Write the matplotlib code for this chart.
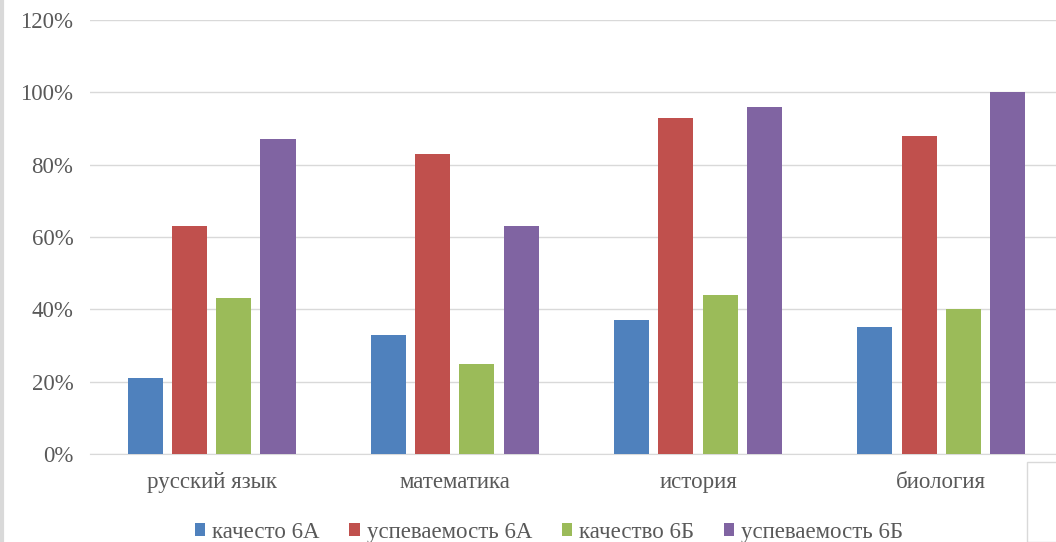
import matplotlib.pyplot as plt
import matplotlib.patches as mpatches
from matplotlib.lines import Line2D
import numpy as np

# subjects and series (percent)
subjects = ["русский язык", "математика", "история", "биология"]
series_names = ["качесто 6А", "успеваемость 6А", "качество 6Б", "успеваемость 6Б"]
kach_6a = [21, 33, 37, 35]
usp_6a = [63, 83, 93, 88]
kach_6b = [43, 25, 44, 40]
usp_6b = [87, 63, 96, 100]
colors = ["#4f81bd", "#c0504d", "#9bbb59", "#8064a2"]

plt.rcParams['font.family'] = ['Liberation Serif', 'DejaVu Serif']

fig = plt.figure(figsize=(10.56, 5.42), dpi=100)
ax = fig.add_axes([0.0852, 0.1624, 0.9214, 0.8007])

x = np.arange(len(subjects))
width = 0.144
pitch = 0.182
offsets = [-1.5, -0.5, 0.5, 1.5]
for vals, name, c, off in zip([kach_6a, usp_6a, kach_6b, usp_6b], series_names, colors, offsets):
    ax.bar(x + off * pitch, vals, width, color=c, label=name, zorder=3)

ax.set_xlim(-0.5, len(subjects) - 0.5)
ax.set_ylim(0, 120)
ax.set_yticks(range(0, 121, 20))
ax.set_yticklabels([f"{v}%" for v in range(0, 121, 20)])
ax.set_xticks(x)
ax.set_xticklabels(subjects)
ax.grid(axis='y', color='#d9d9d9', linewidth=1, zorder=0)
for s in ['top', 'right', 'left']:
    ax.spines[s].set_visible(False)
ax.spines['bottom'].set_color('#d9d9d9')
ax.tick_params(axis='both', length=0, labelsize=16.5, colors='#595959')
ax.tick_params(axis='y', pad=12)
ax.tick_params(axis='x', pad=13)

fig.legend(loc='center', bbox_to_anchor=(0.520, 0.018), ncol=4, frameon=False,
           fontsize=16.5, handlelength=0.45, handleheight=0.45, handletextpad=0.3,
           columnspacing=1.3, labelcolor='#595959')

# left border and small box at bottom right
fig.add_artist(Line2D([0.002, 0.002], [0, 1], color='#d9d9d9', linewidth=3, transform=fig.transFigure))
fig.add_artist(mpatches.Rectangle((1027 / 1056, 0), 0.05, (542 - 462) / 542,
                                  transform=fig.transFigure, fill=False,
                                  edgecolor='#d9d9d9', linewidth=1))

fig.savefig("out.png", dpi=100)
